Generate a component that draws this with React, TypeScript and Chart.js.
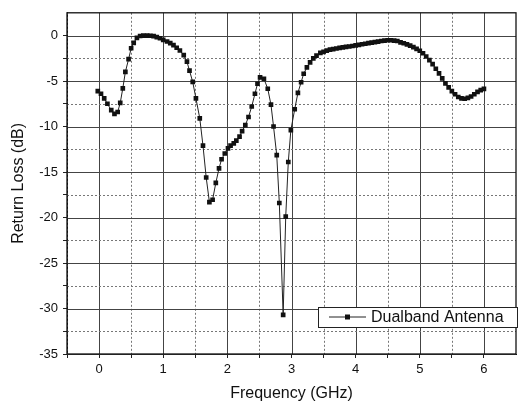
import React, { useEffect, useRef } from 'react';
import { Chart, registerables } from 'chart.js';

Chart.register(...registerables);

const seriesLabel = 'Dualband Antenna';
const xTitle = 'Frequency (GHz)';
const yTitle = 'Return Loss (dB)';

const frequencies = [
  -0.02, 0.03, 0.08, 0.13, 0.19, 0.24, 0.29, 0.33, 0.37, 0.41, 0.46, 0.5, 0.54, 0.59, 0.64, 0.69,
  0.75, 0.8, 0.85, 0.9, 0.95, 1.0, 1.06, 1.11, 1.16, 1.21, 1.26, 1.32, 1.37, 1.41, 1.46, 1.51,
  1.57, 1.62, 1.67, 1.72, 1.77, 1.82, 1.87, 1.91, 1.96, 2.01, 2.05, 2.1, 2.14, 2.19, 2.23, 2.28,
  2.33, 2.38, 2.43, 2.47, 2.51, 2.57, 2.63, 2.68, 2.72, 2.77, 2.81, 2.87, 2.91, 2.95, 2.99, 3.05,
  3.1, 3.15, 3.19, 3.24, 3.29, 3.34, 3.39, 3.45, 3.5, 3.55, 3.6, 3.65, 3.7, 3.75, 3.8, 3.85,
  3.9, 3.95, 4.0, 4.05, 4.1, 4.15, 4.2, 4.25, 4.3, 4.35, 4.4, 4.45, 4.5, 4.55, 4.6, 4.65,
  4.7, 4.75, 4.8, 4.85, 4.9, 4.95, 5.0, 5.05, 5.1, 5.15, 5.2, 5.25, 5.3, 5.35, 5.4, 5.45,
  5.5, 5.55, 5.6, 5.65, 5.7, 5.75, 5.8, 5.85, 5.9, 5.95, 6.0,
];

const returnLoss = [
  -6.1, -6.4, -6.9, -7.5, -8.2, -8.6, -8.4, -7.4, -5.8, -4.0, -2.6, -1.4, -0.8, -0.25, -0.05, 0,
  0, -0.02, -0.07, -0.18, -0.3, -0.47, -0.65, -0.84, -1.06, -1.34, -1.64, -2.15, -2.87, -3.86, -5.1, -6.9,
  -9.1, -12.1, -15.6, -18.3, -18.05, -16.2, -14.6, -13.6, -12.96, -12.4, -12.1, -11.85, -11.55, -11.1, -10.5, -9.85,
  -8.95, -7.8, -6.4, -5.3, -4.6, -4.75, -5.85, -7.6, -10.0, -13.15, -18.4, -30.7, -19.9, -13.9, -10.4, -8.1,
  -6.3, -5.13, -4.2, -3.5, -2.95, -2.5, -2.2, -1.9, -1.8, -1.65, -1.55, -1.5, -1.42, -1.36, -1.3, -1.25,
  -1.2, -1.15, -1.08, -1.02, -0.96, -0.9, -0.84, -0.78, -0.72, -0.66, -0.6, -0.55, -0.52, -0.52, -0.55, -0.6,
  -0.75, -0.85, -0.97, -1.1, -1.28, -1.47, -1.67, -1.95, -2.3, -2.7, -3.15, -3.65, -4.15, -4.7, -5.25, -5.7,
  -6.1, -6.45, -6.75, -6.9, -6.95, -6.85, -6.7, -6.45, -6.2, -6.0, -5.86,
];

const xTicks = [-0.5, 0, 0.5, 1, 1.5, 2, 2.5, 3, 3.5, 4, 4.5, 5, 5.5, 6];
const yTicks = [-35, -32.5, -30, -27.5, -25, -22.5, -20, -17.5, -15, -12.5, -10, -7.5, -5, -2.5, 0];

const FONT = '"Liberation Sans", Arial, Helvetica, sans-serif';

const gridPlugin = {
  id: 'mixedGrid',
  beforeDatasetsDraw(chart: any) {
    const { ctx, chartArea, scales } = chart;
    const { left, right, top, bottom } = chartArea;
    ctx.save();
    ctx.lineWidth = 1;
    for (const v of xTicks) {
      const px = Math.round(scales.x.getPixelForValue(v)) + 0.5;
      const major = Number.isInteger(v);
      ctx.setLineDash(major ? [] : [2, 2]);
      ctx.strokeStyle = major ? '#444' : '#777';
      ctx.beginPath();
      ctx.moveTo(px, top);
      ctx.lineTo(px, bottom);
      ctx.stroke();
    }
    for (const v of yTicks) {
      const py = Math.round(scales.y.getPixelForValue(v)) + 0.5;
      const major = v % 5 === 0;
      ctx.setLineDash(major ? [] : [2, 2]);
      ctx.strokeStyle = major ? '#444' : '#777';
      ctx.beginPath();
      ctx.moveTo(left, py);
      ctx.lineTo(right, py);
      ctx.stroke();
    }
    ctx.setLineDash([]);
    ctx.strokeStyle = '#111';
    ctx.lineWidth = 1.3;
    ctx.strokeRect(left, top, right - left, bottom - top);
    ctx.restore();
  },
};

const legendPlugin = {
  id: 'insideLegend',
  afterDraw(chart: any) {
    const { ctx, chartArea } = chart;
    const ds = chart.data.datasets[0];
    const boxRight = chartArea.right + 1;
    const boxLeft = boxRight - 199;
    const boxBottom = chartArea.bottom - 27;
    const boxTop = boxBottom - 20;
    ctx.save();
    ctx.fillStyle = '#fff';
    ctx.fillRect(boxLeft, boxTop, boxRight - boxLeft, boxBottom - boxTop);
    ctx.strokeStyle = '#222';
    ctx.lineWidth = 1;
    ctx.strokeRect(boxLeft + 0.5, boxTop + 0.5, boxRight - boxLeft, boxBottom - boxTop);
    const cy = (boxTop + boxBottom) / 2;
    ctx.strokeStyle = '#222';
    ctx.beginPath();
    ctx.moveTo(boxLeft + 11, cy);
    ctx.lineTo(boxLeft + 48, cy);
    ctx.stroke();
    ctx.fillStyle = '#111';
    ctx.fillRect(boxLeft + 27, cy - 2.5, 5, 5);
    ctx.font = `16px ${FONT}`;
    ctx.textBaseline = 'middle';
    ctx.textAlign = 'left';
    ctx.fillText(ds.label, boxLeft + 53, cy + 1);
    ctx.restore();
  },
};

export default function App() {
  const canvasRef = useRef<HTMLCanvasElement | null>(null);

  useEffect(() => {
    const canvas = canvasRef.current;
    if (!canvas) return;
    const points = frequencies.map((f, i) => ({ x: f, y: returnLoss[i] }));
    const chart = new Chart(canvas, {
      type: 'line',
      data: {
        datasets: [
          {
            label: seriesLabel,
            data: points,
            borderColor: '#222',
            borderWidth: 1,
            backgroundColor: '#111',
            pointStyle: 'rect',
            pointRadius: 3.3,
            pointBorderWidth: 0,
            pointBackgroundColor: '#111',
            tension: 0,
            fill: false,
          },
        ],
      },
      options: {
        responsive: false,
        animation: false,
        events: [],
        layout: { padding: { top: 10, right: 7, left: 0, bottom: 0 } },
        plugins: {
          legend: { display: false },
          tooltip: { enabled: false },
        },
        scales: {
          x: {
            type: 'linear',
            min: -0.5,
            max: 6.5,
            afterBuildTicks: (scale: any) => {
              scale.ticks = xTicks.map((v) => ({ value: v }));
            },
            afterFit: (scale: any) => {
              scale.height = 52;
            },
            ticks: {
              autoSkip: false,
              maxRotation: 0,
              padding: 4,
              color: '#111',
              font: { family: FONT, size: 13 },
              callback: (v: any) => (Number.isInteger(v) ? String(v) : ''),
            },
            grid: { drawOnChartArea: false, drawTicks: true, tickLength: 4, color: '#222' },
            border: { display: true, color: '#111' },
            title: {
              display: true,
              text: xTitle,
              color: '#111',
              font: { family: FONT, size: 16 },
              padding: { top: 0, bottom: 3 },
            },
          },
          y: {
            type: 'linear',
            min: -35,
            max: 2.5,
            afterBuildTicks: (scale: any) => {
              scale.ticks = yTicks.map((v) => ({ value: v }));
            },
            afterFit: (scale: any) => {
              scale.width = 67;
            },
            ticks: {
              autoSkip: false,
              padding: 5,
              color: '#111',
              font: { family: FONT, size: 13 },
              callback: (v: any) => (v % 5 === 0 ? String(v) : ''),
            },
            grid: { drawOnChartArea: false, drawTicks: true, tickLength: 4, color: '#222' },
            border: { display: true, color: '#111' },
            title: {
              display: true,
              text: yTitle,
              color: '#111',
              font: { family: FONT, size: 16 },
              padding: { top: 9, bottom: 0 },
            },
          },
        },
      },
      plugins: [gridPlugin, legendPlugin],
    });
    return () => chart.destroy();
  }, []);

  return (
    <div style={{ position: 'fixed', left: 0, top: 0, width: 523, height: 406, background: '#fff' }}>
      <canvas ref={canvasRef} width={523} height={406} style={{ display: 'block' }} />
    </div>
  );
}
